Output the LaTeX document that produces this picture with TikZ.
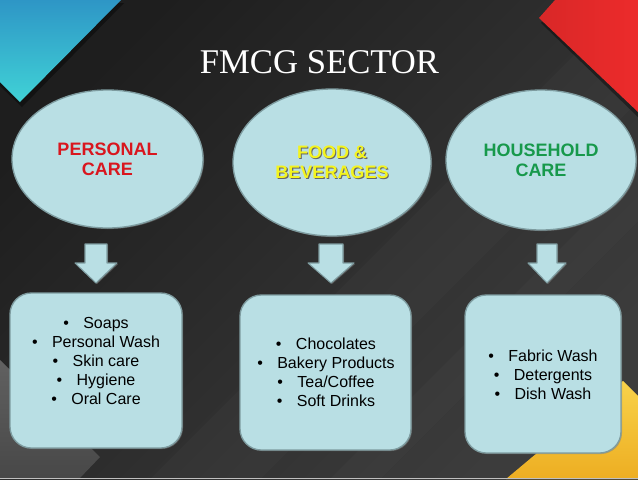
\documentclass[tikz,border=0pt]{standalone}
\usepackage{fontspec}
\setmainfont{Liberation Serif}
\newfontfamily\arialfont{Liberation Sans}
\usetikzlibrary{shapes.geometric,shadows}

\definecolor{bgdark}{HTML}{1E1E1E}
\definecolor{bglight}{HTML}{3C3C3C}
\definecolor{paleblue}{HTML}{B9DFE4}
\definecolor{paleedge}{HTML}{7E9CA0}
\definecolor{cyantop}{HTML}{2E96C6}
\definecolor{cyanbot}{HTML}{40D2D6}
\definecolor{redshape}{HTML}{EC2B2B}
\definecolor{yellowtop}{HTML}{F8D24A}
\definecolor{yellowbot}{HTML}{EDAE22}
\definecolor{caretext}{HTML}{D9161E}
\definecolor{foodtext}{HTML}{F4F41E}
\definecolor{housetext}{HTML}{17994B}

\newcommand\shadowtext[1]{\makebox[0pt][l]{\color{black!60}\hspace{0.9pt}\raisebox{-0.9pt}{#1}}#1}

\begin{document}
\begin{tikzpicture}[line cap=round,line join=round,x=0.75pt,y=-0.75pt,
    catellipse/.style={ellipse,fill=paleblue,draw=paleedge,line width=1pt,align=center,
      drop shadow={shadow xshift=0.8pt,shadow yshift=-0.8pt,opacity=0.5},
      font=\arialfont\bfseries\fontsize{13.5}{15}\selectfont},
    listbox/.style={rectangle,rounded corners=16pt,fill=paleblue,draw=paleedge,line width=1pt,
      drop shadow={shadow xshift=0.8pt,shadow yshift=-0.8pt,opacity=0.5}},
    listtext/.style={align=center,inner sep=0pt,font=\arialfont\fontsize{12}{14.25}\selectfont},
    flowarrow/.style={fill=paleblue,draw=paleedge,line width=0.8pt,
      drop shadow={shadow xshift=0.8pt,shadow yshift=-0.8pt,opacity=0.5}}]
  \useasboundingbox (0,0) rectangle (638,479);
  % background
  \shade[top color=bgdark,bottom color=bglight,shading angle=45] (0,0) rectangle (638,479);
  \fill[white,opacity=0.02] (150,479) -- (260,479) -- (638,101) -- (638,-9) -- cycle;
  \fill[white,opacity=0.02] (330,479) -- (380,479) -- (638,221) -- (638,171) -- cycle;
  \fill[black,opacity=0.4] (0,3) -- (124,3) -- (22,107) -- (0,86) -- cycle;
  \shade[top color=cyantop,bottom color=cyanbot] (0,0) -- (121,0) -- (20,102) -- (0,82) -- cycle;
  \fill[black,opacity=0.4] (559,3) -- (541,23) -- (638,117) -- (638,3) -- cycle;
  \shade[left color=redshape!92!black,right color=redshape] (555,0) -- (539,18) -- (638,112) -- (638,0) -- cycle;
  \shade[top color=black!62,bottom color=black!72] (0,360) -- (100,457) -- (79,479) -- (0,479) -- cycle;
  \shade[top color=yellowtop,bottom color=yellowbot] (506,479) -- (623,381) -- (638,396) -- (638,479) -- cycle;
  \fill[black!25] (0,477.5) rectangle (638,479);

  % title
  \node[anchor=base,text=white,font=\fontsize{26}{30}\selectfont] (title) at (319.5,73) {FMCG SECTOR};

  % categories
  \node[catellipse,minimum width=143.25pt,minimum height=103.5pt,text=caretext] (pcare) at (107.5,159) {PERSONAL\\CARE};
  \node[catellipse,minimum width=148.5pt,minimum height=110.25pt,text=foodtext] (food) at (332,162.5) {\shadowtext{FOOD \&}\\\shadowtext{BEVERAGES}};
  \node[catellipse,minimum width=142.5pt,minimum height=105pt,text=housetext] (hcare) at (541,160) {HOUSEHOLD\\CARE};

  % arrows
  \coordinate (pcarrow) at (96,244);
  \coordinate (foodarrow) at (331,244);
  \coordinate (hcarrow) at (547,244);
  \draw[flowarrow] (pcarrow) -- ++(11,0) -- ++(0,19) -- ++(10,0) -- ++(-21,20) -- ++(-21,-20) -- ++(10,0) -- ++(0,-19) -- cycle;
  \draw[flowarrow] (foodarrow) -- ++(12,0) -- ++(0,19) -- ++(11,0) -- ++(-23,20) -- ++(-23,-20) -- ++(11,0) -- ++(0,-19) -- cycle;
  \draw[flowarrow] (hcarrow) -- ++(10,0) -- ++(0,19) -- ++(9,0) -- ++(-19,20) -- ++(-19,-20) -- ++(9,0) -- ++(0,-19) -- cycle;

  % lists
  \node[listbox,minimum width=129pt,minimum height=116.25pt] (pcbox) at (96,370.5) {};
  \node[listbox,minimum width=128.25pt,minimum height=116.25pt] (foodbox) at (325.5,372.5) {};
  \node[listbox,minimum width=117pt,minimum height=118.5pt] (hcbox) at (543,374) {};

  \node[listtext] (pclist) at (96,361) {•\hspace{0.9em}Soaps\\•\hspace{0.9em}Personal Wash\\•\hspace{0.9em}Skin care\\•\hspace{0.9em}Hygiene\\•\hspace{0.9em}Oral Care};
  \node[listtext] (foodlist) at (326,372) {•\hspace{0.9em}Chocolates\\•\hspace{0.9em}Bakery Products\\•\hspace{0.9em}Tea/Coffee\\•\hspace{0.9em}Soft Drinks};
  \node[listtext] (hclist) at (543,375) {•\hspace{0.9em}Fabric Wash\\•\hspace{0.9em}Detergents\\•\hspace{0.9em}Dish Wash};
\end{tikzpicture}
\end{document}
